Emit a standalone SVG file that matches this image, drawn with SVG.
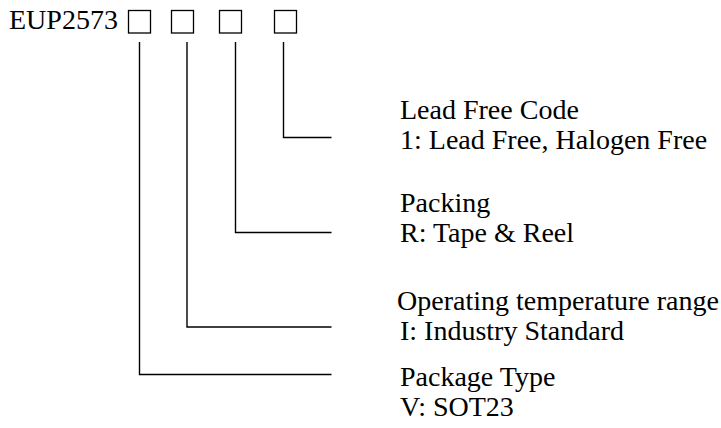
<svg xmlns="http://www.w3.org/2000/svg" width="721" height="428" viewBox="0 0 721 428">
<style>
text{font-family:"Liberation Serif","Times New Roman",serif;font-size:28px;fill:#000}
.box{fill:none;stroke:#000;stroke-width:1.3}
.conn{fill:none;stroke:#000;stroke-width:1.4}
</style>
<rect width="721" height="428" fill="#fff"/>
<g id="title">
<text x="9" y="29">EUP2573</text>
<rect class="box" x="128.5" y="10.5" width="22" height="22.5"/>
<rect class="box" x="171.5" y="10.5" width="22" height="22.5"/>
<rect class="box" x="219.5" y="10.5" width="22" height="22.5"/>
<rect class="box" x="274.5" y="10.5" width="22" height="22.5"/>
</g>
<g id="connectors">
<polyline class="conn" points="139.5,42 139.5,374.5 331.5,374.5"/>
<polyline class="conn" points="187,42 187,327 331.5,327"/>
<polyline class="conn" points="235.5,42 235.5,232.5 331.5,232.5"/>
<polyline class="conn" points="283.5,42 283.5,137.5 331.5,137.5"/>
</g>
<g id="lead-free">
<text x="400" y="119">Lead Free Code</text>
<text x="400" y="149">1: Lead Free, Halogen Free</text>
</g>
<g id="packing">
<text x="400" y="212">Packing</text>
<text x="400" y="242">R: Tape &amp; Reel</text>
</g>
<g id="temperature">
<text x="397" y="310">Operating temperature range</text>
<text x="400" y="340">I: Industry Standard</text>
</g>
<g id="package">
<text x="400" y="386">Package Type</text>
<text x="400" y="416">V: SOT23</text>
</g>
</svg>
